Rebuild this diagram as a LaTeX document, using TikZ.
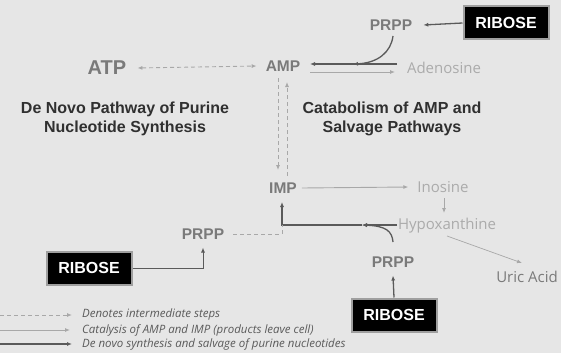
\documentclass[tikz,border=0pt]{standalone}
\usepackage{fontspec}
\setmainfont{Liberation Sans}
\newfontfamily\opensans{Open Sans}
\usetikzlibrary{arrows.meta}
\definecolor{bgc}{HTML}{E6E6E6}
\definecolor{darkln}{HTML}{5A5A5A}
\definecolor{lightln}{HTML}{A8A8A8}
\definecolor{lbl}{HTML}{7A7A7A}
\definecolor{pale}{HTML}{ABABAB}
\definecolor{ttl}{HTML}{303030}
\tikzset{
  arr/.style={-{Latex[length=5pt,width=4pt]}},
  dk/.style={draw=darkln, line width=1.3pt},
  lt/.style={draw=lightln, line width=0.9pt},
  dsh/.style={draw=lightln, line width=0.9pt, dash pattern=on 4pt off 3pt},
  ribbox/.style={fill=black, draw=gray!75, line width=2pt, minimum width=85pt, minimum height=33pt, inner sep=0pt, text=white, font=\bfseries\fontsize{16}{16}\selectfont},
  big/.style={inner sep=0pt, text=lbl, font=\bfseries\fontsize{20}{20}\selectfont},
  mid/.style={inner sep=0pt, text=lbl, font=\bfseries\fontsize{15.5}{15.5}\selectfont},
  paletxt/.style={inner sep=0pt, text=pale, font=\opensans\fontsize{15}{15}\selectfont},
  ttlstyle/.style={inner sep=0pt, align=center, text=ttl, font=\bfseries\fontsize{16}{18.5}\selectfont},
  legtxt/.style={inner sep=0pt, anchor=west, text=darkln, font=\opensans\itshape\fontsize{11.5}{11.5}\selectfont},
}
\begin{document}
\begin{tikzpicture}[x=1pt,y=-1pt]
\fill[bgc] (0,0) rectangle (561,353);
\useasboundingbox (0,0) rectangle (561,353);

% nodes
\node[ribbox] (ribT) at (506,23) {RIBOSE};
\node[mid] (prppT) at (391,25) {PRPP};
\node[mid] (amp) at (283,66) {AMP};
\node[big] (atp) at (107,68) {ATP};
\node[paletxt] (aden) at (444,68) {Adenosine};
\node[ttlstyle] (tL) at (125,119) {De Novo Pathway of Purine\\Nucleotide Synthesis};
\node[ttlstyle] (tR) at (392,119) {Catabolism of AMP and\\Salvage Pathways};
\node[mid] (imp) at (283,188) {IMP};
\node[paletxt] (inos) at (443,187) {Inosine};
\node[paletxt] (hypo) at (447,226) {Hypoxanthine};
\node[mid] (prppL) at (203,234) {PRPP};
\node[mid] (prppR) at (393,262) {PRPP};
\node[paletxt, text=lbl] (uric) at (527,277) {Uric Acid};
\node[ribbox] (ribL) at (89,268) {RIBOSE};
\node[ribbox] (ribB) at (394,315) {RIBOSE};

% helper coordinates
\coordinate (adenIn) at (397,64);
\coordinate (ampIn) at (310,64);
\coordinate (mergeT) at (353,64);
\coordinate (ampOut) at (310,72);
\coordinate (adenOut) at (395,72);
\coordinate (curveT) at (393,36);
\coordinate (hypIn) at (397,225);
\coordinate (mergeB) at (362,225);
\coordinate (junc) at (282,225);
\coordinate (impIn) at (282,202);
\coordinate (curveB) at (393,242);
\coordinate (dEnd) at (282,234);

% top
\draw[dk,arr] (ribT.west) -- ([xshift=11pt]prppT.east);
\draw[dsh,{Latex[length=5pt,width=4pt]}-{Latex[length=5pt,width=4pt]}] ([xshift=11pt]atp.east) -- ([xshift=-9pt]amp.west);
\draw[dk,arr] (adenIn) -- (ampIn);
\draw[dk,arr] (curveT) .. controls (391,52) and (378,63) .. (mergeT);
\draw[lt,arr] (ampOut) -- (adenOut);

% AMP <-> IMP dashed
\draw[dsh,arr] (278,78) -- (278,170);
\draw[dsh,arr] (287,176) -- (287,82);

% IMP side
\draw[lt,arr] ([xshift=5pt]imp.east) -- ([xshift=-9pt]inos.west);
\draw[lt,arr] (444,198) -- (444,213);
\draw[lt,line width=0.7pt,arr] (447,236) -- (522,263);
\draw[dk,arr] (hypIn) -- (mergeB);
\draw[dk,arr] (mergeB) -- (junc) -- (impIn);
\draw[dk,arr] (curveB) .. controls (392,231) and (386,226) .. (mergeB);
\draw[dsh] ([xshift=9pt]prppL.east) -- (dEnd) -- (junc);

% ribose links
\draw[dk,line width=1pt,arr] (ribL.east) -| ([yshift=-8pt]prppL.south);
\draw[dk,arr] (ribB.north) -- ([yshift=-8pt]prppR.south);

% legend
\coordinate (l1s) at (0,315);
\coordinate (l1e) at (72,315);
\coordinate (l2s) at (0,330);
\coordinate (l2e) at (70,330);
\coordinate (l3s) at (0,344);
\coordinate (l3e) at (72,344);
\draw[dsh,arr] (l1s) -- (l1e);
\draw[lt,arr] (l2s) -- (l2e);
\draw[dk,line width=1.1pt,arr] (l3s) -- (l3e);
\node[legtxt] (g1) at (82,315) {Denotes intermediate steps};
\node[legtxt] (g2) at (82,330) {Catalysis of AMP and IMP (products leave cell)};
\node[legtxt] (g3) at (82,344) {De novo synthesis and salvage of purine nucleotides};
\end{tikzpicture}
\end{document}
